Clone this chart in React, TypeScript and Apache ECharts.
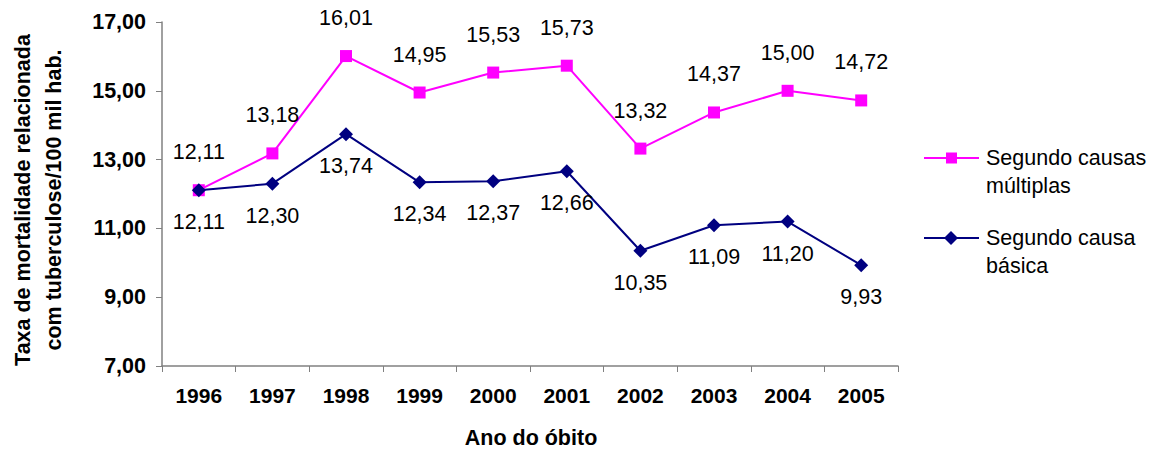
import React, { useEffect, useRef } from "react";
import * as echarts from "echarts";

const categories = ["1996", "1997", "1998", "1999", "2000", "2001", "2002", "2003", "2004", "2005"];
const multiplas = [12.11, 13.18, 16.01, 14.95, 15.53, 15.73, 13.32, 14.37, 15.0, 14.72];
const basica = [12.11, 12.3, 13.74, 12.34, 12.37, 12.66, 10.35, 11.09, 11.2, 9.93];
const seriesNames = ["Segundo causas\nmúltiplas", "Segundo causa\nbásica"];
const yTitle = "Taxa de mortalidade relacionada\ncom tuberculose/100 mil hab.";
const xTitle = "Ano do óbito";

const PINK = "#FF00FF";
const NAVY = "#000080";
const FONT = "Liberation Sans, Arial, sans-serif";
const FS = 21.5;

const fmt = (v: number) => v.toFixed(2).replace(".", ",");

export default function App() {
  const ref = useRef<HTMLDivElement>(null);
  useEffect(() => {
    document.body.style.margin = "0";
    if (!ref.current) return;
    const chart = echarts.init(ref.current, null, { renderer: "svg" });
    chart.setOption({
      animation: false,
      backgroundColor: "#ffffff",
      textStyle: { fontFamily: FONT },
      grid: { left: 162, right: 259, top: 22, bottom: 84 },
      xAxis: {
        type: "category",
        data: categories,
        boundaryGap: true,
        axisLine: { lineStyle: { color: "#808080", width: 1.5 } },
        axisTick: { show: true, alignWithLabel: false, length: 6, lineStyle: { color: "#808080" } },
        axisLabel: { color: "#000", fontSize: 21, fontWeight: "bold", fontFamily: FONT, margin: 19 },
        splitLine: { show: false },
      },
      yAxis: {
        type: "value",
        min: 7,
        max: 17,
        interval: 2,
        axisLine: { show: true, lineStyle: { color: "#808080", width: 1.5 } },
        axisTick: { show: true, length: 6, lineStyle: { color: "#808080" } },
        axisLabel: { color: "#000", fontSize: FS, fontWeight: "bold", fontFamily: FONT, margin: 16, formatter: (v: number) => fmt(v) },
        splitLine: { show: false },
      },
      series: [
        {
          name: seriesNames[0],
          type: "line",
          data: multiplas,
          symbol: "rect",
          symbolSize: 12,
          itemStyle: { color: PINK },
          lineStyle: { color: PINK, width: 2 },
          label: {
            show: true,
            position: "top",
            distance: 21,
            color: "#000",
            fontSize: FS,
            fontFamily: FONT,
            formatter: (p: any) => fmt(p.value),
          },
          z: 3,
        },
        {
          name: seriesNames[1],
          type: "line",
          data: basica,
          symbol: "diamond",
          symbolSize: 14,
          itemStyle: { color: NAVY },
          lineStyle: { color: NAVY, width: 2 },
          label: {
            show: true,
            position: "bottom",
            distance: 14,
            color: "#000",
            fontSize: FS,
            fontFamily: FONT,
            formatter: (p: any) => fmt(p.value),
          },
          z: 4,
        },
      ],
      graphic: [
        {
          type: "text",
          x: 38,
          y: 200,
          rotation: Math.PI / 2,
          style: {
            text: yTitle,
            fontSize: FS,
            fontWeight: "bold",
            fontFamily: FONT,
            fill: "#000",
            align: "center",
            verticalAlign: "middle",
            lineHeight: 31,
          },
        },
        {
          type: "text",
          x: 531,
          y: 438,
          style: {
            text: xTitle,
            fontSize: FS,
            fontWeight: "bold",
            fontFamily: FONT,
            fill: "#000",
            align: "center",
            verticalAlign: "middle",
          },
        },
        // legend item 1
        { type: "line", shape: { x1: 924, y1: 158, x2: 979, y2: 158 }, style: { stroke: PINK, lineWidth: 2 } },
        { type: "rect", shape: { x: 946, y: 152.5, width: 11, height: 11 }, style: { fill: PINK } },
        {
          type: "text",
          x: 986,
          y: 144,
          style: { text: seriesNames[0], fontSize: FS, fontFamily: FONT, fill: "#000", align: "left", verticalAlign: "top", lineHeight: 28 },
        },
        // legend item 2
        { type: "line", shape: { x1: 924, y1: 238, x2: 979, y2: 238 }, style: { stroke: NAVY, lineWidth: 2 } },
        { type: "polygon", shape: { points: [[951, 231], [958, 238], [951, 245], [944, 238]] }, style: { fill: NAVY } },
        {
          type: "text",
          x: 986,
          y: 224,
          style: { text: seriesNames[1], fontSize: FS, fontFamily: FONT, fill: "#000", align: "left", verticalAlign: "top", lineHeight: 28 },
        },
      ],
    });
    return () => chart.dispose();
  }, []);
  return <div ref={ref} style={{ width: 1157, height: 450 }} />;
}
